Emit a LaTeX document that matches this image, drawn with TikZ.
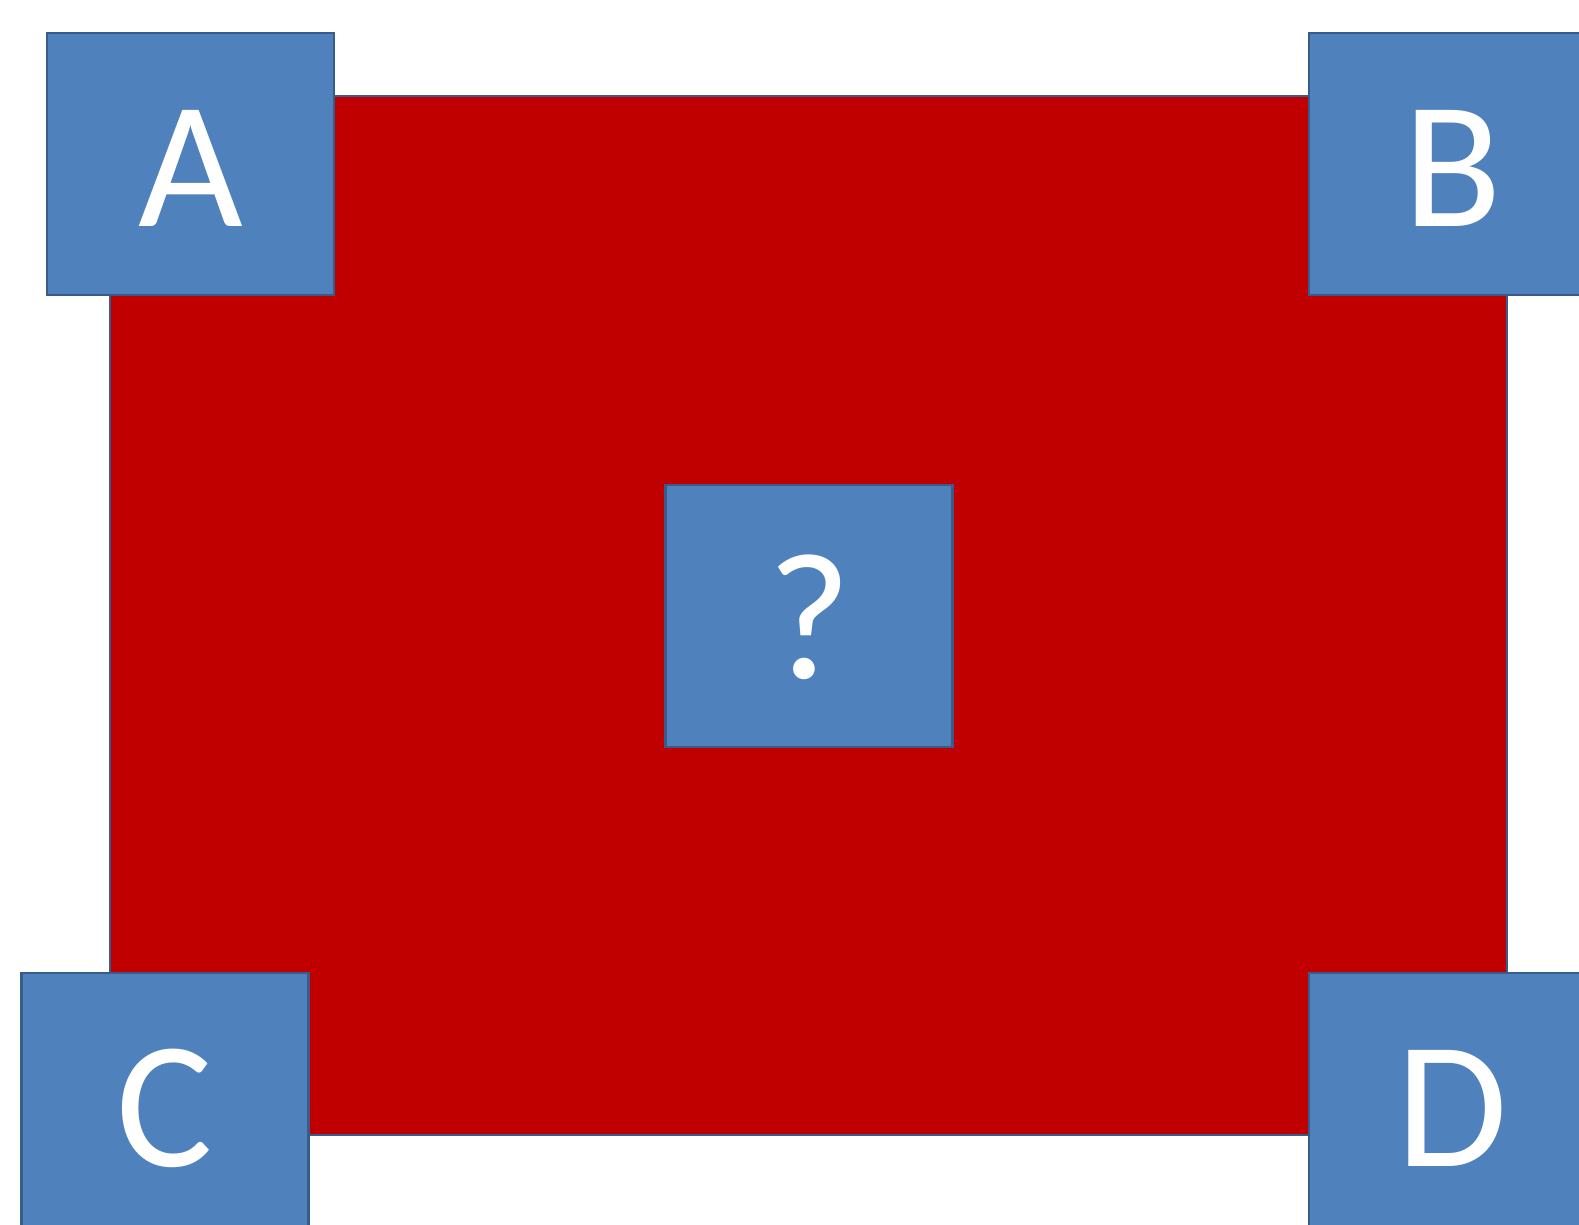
\documentclass[tikz,border=0pt]{standalone}
\usepackage{fontspec}
\setmainfont{Carlito}
\definecolor{redfill}{HTML}{C00000}
\definecolor{bluefill}{HTML}{4F81BD}
\definecolor{blueline}{HTML}{385D8A}
\begin{document}
\begin{tikzpicture}[x=1pt,y=-1pt,
  bigrect/.style={draw=blueline,line width=2pt,fill=redfill,minimum width=1397pt,minimum height=1039pt,inner sep=0pt},
  corner/.style={draw=blueline,line width=2.5pt,fill=bluefill,minimum width=287pt,minimum height=262pt,inner sep=0pt,text=white,text height=124pt,text depth=0pt,font=\fontsize{181}{182}\selectfont}]
\useasboundingbox (0,0) rectangle (1579,1225);
\clip (0,0) rectangle (1579,1225);
\fill[white] (0,0) rectangle (1579,1225);
\node[bigrect] (R) at (808.5,615.5) {};
\node[corner] (A) at (190.5,164) {A};
\node[corner] (B) at (1452.5,164) {B};
\node[corner] (C) at (165,1104) {C};
\node[corner] (D) at (1452.5,1104) {D};
\node[corner] (Q) at (809,616) {?};
\end{tikzpicture}
\end{document}
